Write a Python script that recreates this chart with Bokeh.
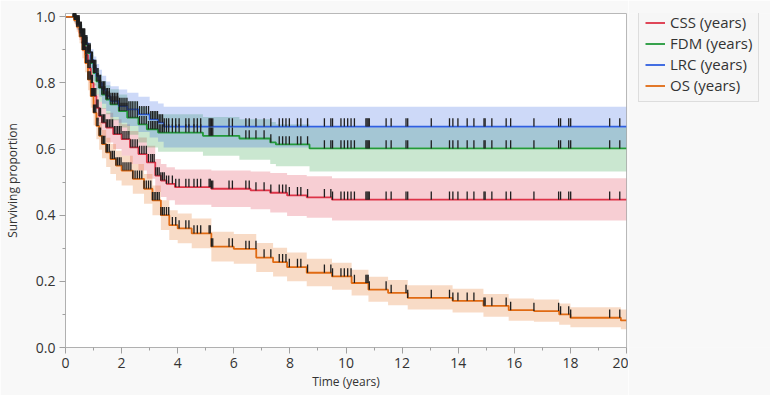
import numpy as np
from bokeh.plotting import figure
from bokeh.layouts import row
from bokeh.models import Range1d, Legend, LegendItem, FixedTicker, NumeralTickFormatter
from bokeh.embed import file_html
from bokeh.resources import INLINE

# ---------------- data ----------------
names = ["CSS (years)", "FDM (years)", "LRC (years)", "OS (years)"]

css_t = [0, 0.3, 0.4, 0.5, 0.6, 0.7, 0.8, 0.9, 1.0, 1.1, 1.2, 1.3, 1.45, 1.7, 2.0, 2.3, 2.6, 2.9, 3.2, 3.4, 3.6, 3.9, 5.2, 6.6, 7.3, 7.9, 8.6, 9.5]
css_s = [1.0, 0.995, 0.975, 0.95, 0.92, 0.885, 0.845, 0.80, 0.76, 0.725, 0.70, 0.68, 0.665, 0.645, 0.63, 0.605, 0.585, 0.56, 0.52, 0.505, 0.495, 0.485, 0.48, 0.475, 0.468, 0.46, 0.454, 0.447]
css_lo = [1.0, 0.985, 0.96, 0.93, 0.895, 0.857, 0.813, 0.765, 0.722, 0.684, 0.657, 0.636, 0.62, 0.6, 0.58, 0.555, 0.535, 0.51, 0.47, 0.455, 0.445, 0.432, 0.425, 0.418, 0.408, 0.398, 0.392, 0.384]
css_hi = [1.0, 1.0, 0.99, 0.97, 0.945, 0.913, 0.877, 0.835, 0.798, 0.766, 0.743, 0.724, 0.71, 0.69, 0.675, 0.655, 0.635, 0.61, 0.57, 0.555, 0.545, 0.538, 0.535, 0.532, 0.528, 0.522, 0.518, 0.512]

fdm_t = [0, 0.3, 0.4, 0.5, 0.6, 0.7, 0.8, 0.9, 1.0, 1.1, 1.2, 1.3, 1.45, 1.6, 1.9, 2.2, 2.6, 2.9, 3.3, 4.9, 6.2, 7.3, 7.5, 8.7]
fdm_s = [1.0, 0.995, 0.98, 0.96, 0.94, 0.915, 0.89, 0.86, 0.83, 0.805, 0.785, 0.765, 0.75, 0.735, 0.715, 0.695, 0.675, 0.66, 0.65, 0.64, 0.632, 0.62, 0.614, 0.602]
fdm_lo = [1.0, 0.985, 0.965, 0.94, 0.915, 0.887, 0.858, 0.825, 0.792, 0.765, 0.743, 0.722, 0.705, 0.687, 0.665, 0.643, 0.62, 0.605, 0.592, 0.58, 0.568, 0.555, 0.548, 0.532]
fdm_hi = [1.0, 1.0, 0.992, 0.977, 0.961, 0.94, 0.918, 0.892, 0.866, 0.843, 0.825, 0.806, 0.793, 0.781, 0.765, 0.745, 0.727, 0.713, 0.705, 0.697, 0.69, 0.682, 0.675, 0.665]

lrc_t = [0, 0.3, 0.4, 0.5, 0.6, 0.7, 0.8, 0.9, 1.0, 1.1, 1.2, 1.3, 1.45, 1.6, 1.9, 2.2, 2.6, 3.0, 3.3, 3.5]
lrc_s = [1.0, 0.995, 0.98, 0.96, 0.94, 0.92, 0.895, 0.87, 0.845, 0.82, 0.80, 0.78, 0.76, 0.745, 0.73, 0.72, 0.705, 0.69, 0.68, 0.668]
lrc_lo = [1.0, 0.985, 0.965, 0.94, 0.915, 0.892, 0.863, 0.835, 0.807, 0.78, 0.758, 0.737, 0.715, 0.697, 0.68, 0.67, 0.652, 0.635, 0.622, 0.605]
lrc_hi = [1.0, 1.0, 0.992, 0.977, 0.961, 0.944, 0.923, 0.902, 0.88, 0.857, 0.84, 0.822, 0.804, 0.79, 0.78, 0.77, 0.758, 0.745, 0.738, 0.728]

os_t = [0, 0.3, 0.4, 0.5, 0.6, 0.7, 0.8, 0.9, 1.0, 1.1, 1.2, 1.3, 1.45, 1.6, 1.8, 2.0, 2.4, 2.8, 3.1, 3.4, 3.7, 4.0, 4.5, 5.2, 6.0, 6.8, 7.4, 7.9, 8.6, 9.5, 10.2, 10.8, 11.5, 12.2, 13.8, 14.9, 15.8, 16.7, 17.6, 18.0, 19.8]
os_s = [1.0, 0.99, 0.97, 0.94, 0.90, 0.86, 0.81, 0.76, 0.71, 0.67, 0.64, 0.615, 0.59, 0.57, 0.55, 0.535, 0.51, 0.48, 0.445, 0.40, 0.37, 0.36, 0.345, 0.305, 0.298, 0.272, 0.258, 0.243, 0.226, 0.215, 0.195, 0.175, 0.165, 0.15, 0.141, 0.126, 0.113, 0.11, 0.10, 0.09, 0.082]
os_lo = [1.0, 0.98, 0.955, 0.92, 0.875, 0.832, 0.778, 0.725, 0.672, 0.63, 0.598, 0.572, 0.546, 0.525, 0.505, 0.49, 0.465, 0.435, 0.40, 0.355, 0.325, 0.315, 0.30, 0.26, 0.253, 0.228, 0.215, 0.20, 0.185, 0.175, 0.157, 0.138, 0.128, 0.115, 0.106, 0.093, 0.081, 0.078, 0.069, 0.061, 0.055]
os_hi = [1.0, 1.0, 0.985, 0.96, 0.925, 0.888, 0.842, 0.795, 0.748, 0.71, 0.682, 0.658, 0.634, 0.615, 0.595, 0.58, 0.555, 0.525, 0.49, 0.445, 0.415, 0.405, 0.39, 0.35, 0.343, 0.316, 0.302, 0.287, 0.268, 0.256, 0.235, 0.214, 0.204, 0.188, 0.178, 0.162, 0.148, 0.145, 0.133, 0.122, 0.115]

# censoring times (years)
censor_early = [0.28, 0.32, 0.36, 0.40, 0.44, 0.48, 0.52, 0.56, 0.60, 0.64, 0.68, 0.72, 0.76, 0.80,
                0.84, 0.88, 0.92, 0.96, 1.00, 1.04, 1.08, 1.12, 1.16, 1.20, 1.25, 1.30, 1.35, 1.40,
                1.45, 1.50, 1.56, 1.62, 1.68, 1.74, 1.80, 1.86, 1.92, 1.98, 2.05, 2.12, 2.19, 2.26,
                2.33, 2.40, 2.48, 2.56, 2.64, 2.72, 2.80, 2.88, 2.96, 3.04, 3.10, 3.16, 3.22, 3.28,
                3.34, 3.40, 3.46, 3.52, 3.60, 3.68]
censor_late = [3.81, 3.93, 4.05, 4.29, 4.40, 4.58, 4.70, 4.82, 5.12, 5.16, 5.20, 5.25, 5.83, 5.95,
               6.43, 6.55, 6.79, 7.08, 7.32, 7.62, 7.74, 7.86, 7.98, 8.27, 8.39, 8.63, 9.23, 9.46,
               9.52, 9.82, 9.94, 10.06, 10.18, 10.30, 10.71, 10.75, 10.79, 10.83, 11.43, 11.61,
               12.14, 12.20, 13.04, 13.69, 13.81, 13.99, 14.32, 14.56, 14.92, 14.96, 15.20, 15.71,
               15.87, 16.70, 17.58, 17.65, 17.94, 18.01, 19.40, 19.76]

x_ticks = [0, 2, 4, 6, 8, 10, 12, 14, 16, 18, 20]
x_minor = [1, 3, 5, 7, 9, 11, 13, 15, 17, 19]
y_ticks = [0.0, 0.2, 0.4, 0.6, 0.8, 1.0]
y_minor = [0.1, 0.3, 0.5, 0.7, 0.9]

# ---------------- style ----------------
line_colors = ["#dd3347", "#22993a", "#2f5fe0", "#e06a12"]
FONT = "Open Sans"
BG = "#f8f8f8"
X_END = 20

p = figure(width=628, height=395, output_backend="svg", toolbar_location=None,
           x_range=Range1d(0, X_END), y_range=Range1d(0, 1.01),
           min_border_left=65, min_border_right=2, min_border_top=13, min_border_bottom=48)
p.background_fill_color = "white"
p.border_fill_color = BG
p.outline_line_color = "#b8b8b8"
p.grid.visible = False

series = [
    (css_t, css_s, css_lo, css_hi),
    (fdm_t, fdm_s, fdm_lo, fdm_hi),
    (lrc_t, lrc_s, lrc_lo, lrc_hi),
    (os_t, os_s, os_lo, os_hi),
]

for (t, s, lo, hi), c in zip(series, line_colors):
    p.varea_step(x=t + [X_END], y1=lo + [lo[-1]], y2=hi + [hi[-1]], step_mode="after",
                 fill_color=c, fill_alpha=0.24)

for (t, s, lo, hi), c in zip(series, line_colors):
    p.step(x=t + [X_END], y=s + [s[-1]], mode="after", line_color=c, line_width=1.8)

censor_all = np.array(censor_early + censor_late)
for (t, s, lo, hi) in series:
    ta = np.array(t)
    sa = np.array(s)
    idx = np.searchsorted(ta, censor_all, side="right") - 1
    yv = sa[idx]
    p.segment(x0=censor_all, y0=yv, x1=censor_all, y1=yv + 0.025,
              line_color="#1e1e1e", line_width=1.3)

# axes
for ax in (p.xaxis[0], p.yaxis[0]):
    ax.axis_line_color = "#b0b0b0"
    ax.major_tick_line_color = "#a0a0a0"
    ax.minor_tick_line_color = "#a0a0a0"
    ax.major_tick_out = 6
    ax.major_tick_in = 0
    ax.minor_tick_out = 3
    ax.minor_tick_in = 0
    ax.major_label_text_font = FONT
    ax.major_label_text_font_size = "14px"
    ax.major_label_text_color = "#333333"
    ax.axis_label_text_font = FONT
    ax.axis_label_text_font_size = "12px"
    ax.axis_label_text_font_style = "normal"
    ax.axis_label_text_color = "#333333"
    ax.major_label_standoff = 4

p.xaxis.ticker = FixedTicker(ticks=x_ticks, minor_ticks=x_minor)
p.yaxis.ticker = FixedTicker(ticks=y_ticks, minor_ticks=y_minor)
p.yaxis.formatter = NumeralTickFormatter(format="0.0")
p.xaxis.axis_label = "Time (years)"
p.yaxis.axis_label = "Surviving proportion"
p.xaxis.axis_label_standoff = 2
p.yaxis.axis_label_standoff = 12

# ---------------- legend panel (separate figure to the right) ----------------
lg = figure(width=142, height=395, output_backend="svg", toolbar_location=None,
            x_range=Range1d(0, 1), y_range=Range1d(0, 1),
            min_border_left=0, min_border_right=0, min_border_top=0, min_border_bottom=0)
lg.axis.visible = False
lg.grid.visible = False
lg.outline_line_color = None
lg.background_fill_color = BG
lg.border_fill_color = BG

# legend-only line renderers, kept outside the visible range of this panel
leg_renderers = [lg.line(x=[5, 6], y=[5, 6], line_color=c, line_width=1.8) for c in line_colors]
legend = Legend(items=[LegendItem(label=n, renderers=[r]) for n, r in zip(names, leg_renderers)],
                location=(10, 245))
legend.background_fill_color = "#f6f6f6"
legend.background_fill_alpha = 1.0
legend.border_line_color = "#c4c4c4"
legend.label_text_font = FONT
legend.label_text_font_size = "15px"
legend.label_text_color = "#333333"
legend.glyph_width = 20
legend.glyph_height = 19
legend.label_height = 19
legend.spacing = 1
legend.padding = 6
legend.margin = 0
legend.label_standoff = 5
lg.add_layout(legend, "center")

layout = row(p, lg, spacing=0)
open("out.html", "w").write(file_html(layout, INLINE))
